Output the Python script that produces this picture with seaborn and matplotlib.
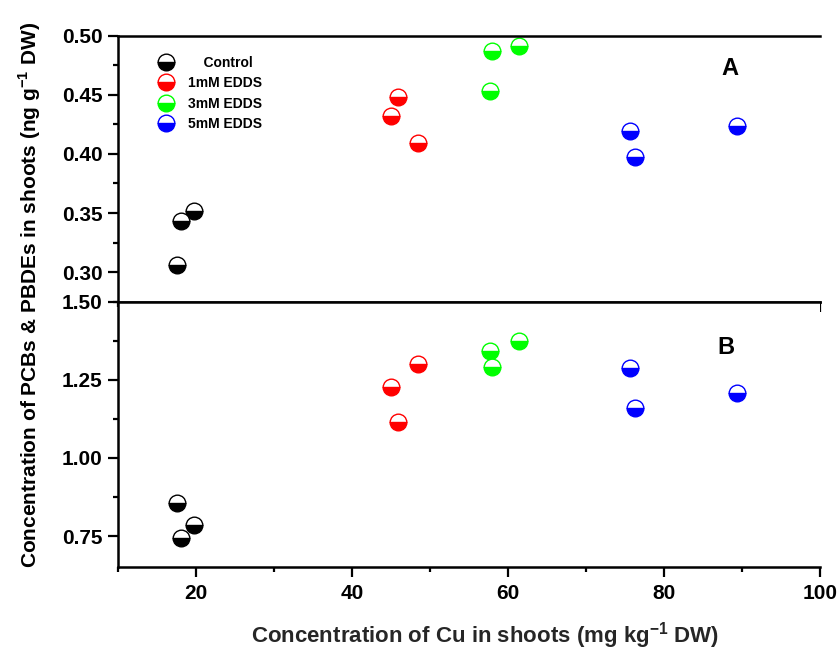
import matplotlib
matplotlib.use("Agg")
import matplotlib.pyplot as plt
from matplotlib.lines import Line2D
from matplotlib.ticker import MultipleLocator, FormatStrFormatter
import pandas as pd
import seaborn as sns

# Data
treatments = ["Control", "1mM EDDS", "3mM EDDS", "5mM EDDS"]
colors = ["#000000", "#ff0000", "#00ff00", "#0000ff"]

cu_control = [17.6, 18.1, 19.7]
cu_1mm = [45.0, 45.9, 48.5]
cu_3mm = [57.7, 57.9, 61.4]
cu_5mm = [75.6, 76.3, 89.4]

# panel A
conc_a_control = [0.306, 0.343, 0.352]
conc_a_1mm = [0.432, 0.448, 0.409]
conc_a_3mm = [0.453, 0.487, 0.491]
conc_a_5mm = [0.419, 0.397, 0.424]

# panel B
conc_b_control = [0.856, 0.744, 0.785]
conc_b_1mm = [1.227, 1.115, 1.300]
conc_b_3mm = [1.342, 1.291, 1.374]
conc_b_5mm = [1.288, 1.160, 1.208]

df = pd.DataFrame({
    "cu": cu_control + cu_1mm + cu_3mm + cu_5mm,
    "conc_a": conc_a_control + conc_a_1mm + conc_a_3mm + conc_a_5mm,
    "conc_b": conc_b_control + conc_b_1mm + conc_b_3mm + conc_b_5mm,
    "treatment": [t for t in treatments for _ in range(3)],
})
palette = dict(zip(treatments, colors))

sns.set_style("ticks")
plt.rcParams["font.family"] = ["Liberation Sans", "DejaVu Sans"]
plt.rcParams["font.weight"] = "bold"
plt.rcParams["mathtext.fontset"] = "custom"
plt.rcParams["mathtext.rm"] = "Liberation Sans:bold"
plt.rcParams["mathtext.bf"] = "Liberation Sans:bold"
plt.rcParams["text.color"] = "black"
plt.rcParams["axes.edgecolor"] = "black"
plt.rcParams["xtick.color"] = "black"
plt.rcParams["ytick.color"] = "black"

fig = plt.figure(figsize=(8.38, 6.53), dpi=100)
ax_a = fig.add_axes([0.1408, 0.538, 0.8377, 0.4073])
ax_b = fig.add_axes([0.1408, 0.1312, 0.8377, 0.4068], sharex=ax_a)

marker_kws = dict(marker="o", linestyle="", fillstyle="bottom",
                  markerfacecoloralt="white", markersize=12, mew=1.0)

for ax, ycol in [(ax_a, "conc_a"), (ax_b, "conc_b")]:
    sns.lineplot(data=df, x="cu", y=ycol, hue="treatment", palette=palette,
                 estimator=None, legend=False, ax=ax, **marker_kws)
    for line in ax.lines:
        line.set_markeredgecolor(line.get_color())
    ax.set_xlabel("")
    ax.set_ylabel("")
    ax.spines["right"].set_visible(False)
    for side in ["left", "bottom", "top"]:
        ax.spines[side].set_linewidth(1.8)
        ax.spines[side].set_color("black")
    ax.tick_params(axis="both", which="major", direction="out", length=7,
                   width=1.6, labelsize=15, colors="black")
    ax.tick_params(axis="both", which="minor", direction="out", length=3.6,
                   width=1.6, colors="black")
    ax.tick_params(axis="y", pad=4)
    ax.tick_params(axis="x", pad=5)
    ax.xaxis.set_major_locator(MultipleLocator(20))
    ax.xaxis.set_minor_locator(MultipleLocator(10))

ax_a.set_xlim(10, 100)
ax_a.set_ylim(0.275, 0.50)
ax_a.yaxis.set_major_locator(MultipleLocator(0.05))
ax_a.yaxis.set_minor_locator(MultipleLocator(0.025))
ax_a.yaxis.set_major_formatter(FormatStrFormatter("%.2f"))
ax_a.tick_params(axis="x", labelbottom=False)

ax_b.set_ylim(0.65, 1.50)
ax_b.yaxis.set_major_locator(MultipleLocator(0.25))
ax_b.yaxis.set_minor_locator(MultipleLocator(0.125))
ax_b.yaxis.set_major_formatter(FormatStrFormatter("%.2f"))

ax_a.text(0.872, 0.875, "A", transform=ax_a.transAxes, fontsize=17,
          fontweight="bold", ha="center", va="center")
ax_b.text(0.866, 0.827, "B", transform=ax_b.transAxes, fontsize=17,
          fontweight="bold", ha="center", va="center")

handles = [Line2D([], [], color=c, markeredgecolor=c, **marker_kws) for c in colors]
labels = ["    Control"] + treatments[1:]
leg = ax_a.legend(handles, labels, loc="upper left", bbox_to_anchor=(0.045, 0.955),
                  frameon=False, fontsize=10, handlelength=1.2, handletextpad=1.0,
                  labelspacing=0.45, borderaxespad=0.2)
for t in leg.get_texts():
    t.set_fontweight("bold")

ax_b.set_xlabel(r"Concentration of Cu in shoots (mg kg$^{\mathbf{-1}}$ DW)",
                fontsize=16, fontweight="bold")
ax_b.xaxis.set_label_coords(0.523, -0.2)
fig.text(0.036, 0.548,
         r"Concentration of PCBs & PBDEs in shoots (ng g$^{\mathbf{-1}}$ DW)",
         rotation=90, ha="center", va="center", fontsize=15, fontweight="bold")

# make sure all tick labels are bold after ticks are generated
fig.canvas.draw()
for ax in [ax_a, ax_b]:
    for lab in ax.get_xticklabels() + ax.get_yticklabels():
        lab.set_fontweight("bold")

fig.savefig("out.png", dpi=100)
